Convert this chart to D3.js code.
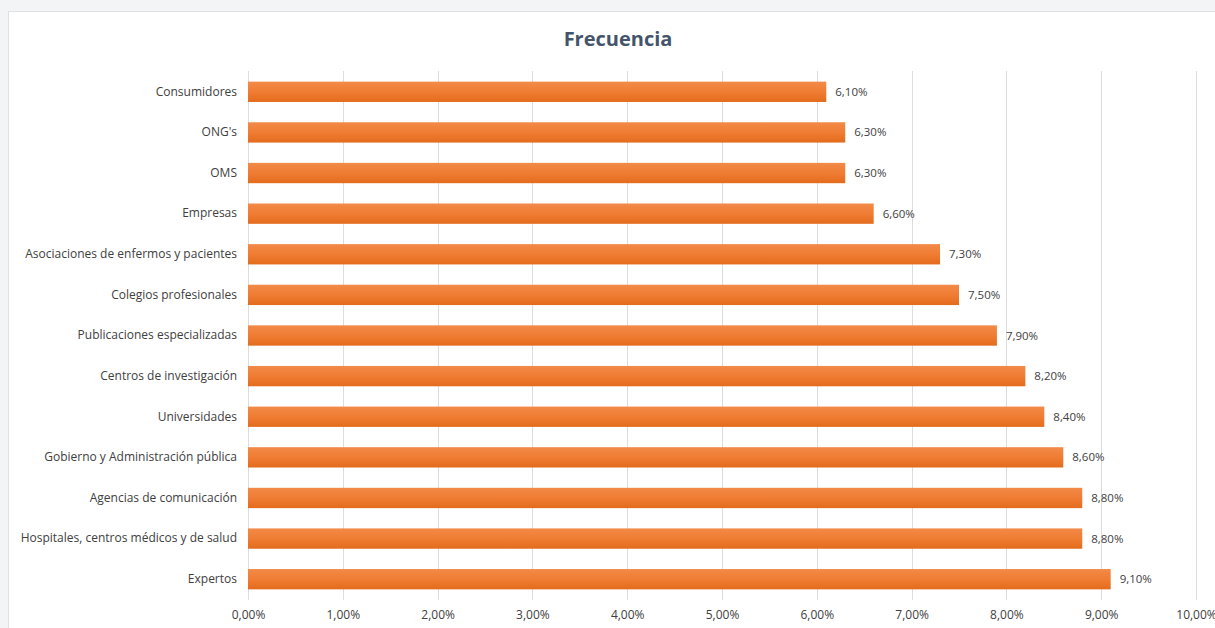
<!DOCTYPE html>
<html>
<head>
<meta charset="utf-8">
<script src="https://cdn.jsdelivr.net/npm/d3@7"></script>
<style>
  html, body { margin: 0; padding: 0; background: #f3f4f6; }
  svg { display: block; }
</style>
</head>
<body>
<svg id="chart" width="1215" height="628"></svg>
<script>
// Categories listed top to bottom
const categories = [
  "Consumidores",
  "ONG's",
  "OMS",
  "Empresas",
  "Asociaciones de enfermos y pacientes",
  "Colegios profesionales",
  "Publicaciones especializadas",
  "Centros de investigación",
  "Universidades",
  "Gobierno y Administración pública",
  "Agencias de comunicación",
  "Hospitales, centros médicos y de salud",
  "Expertos"
];
// Frequency, in percent
const values = [6.1, 6.3, 6.3, 6.6, 7.3, 7.5, 7.9, 8.2, 8.4, 8.6, 8.8, 8.8, 9.1];
const tickValues = [0, 1, 2, 3, 4, 5, 6, 7, 8, 9, 10];
const title = "Frecuencia";

const fmt = v => d3.format(".2f")(v).replace(".", ",") + "%";

const svg = d3.select("#chart");
const font = "'Open Sans', 'Liberation Sans', sans-serif";

// White chart panel
svg.append("rect")
  .attr("x", 8.5).attr("y", 11.5)
  .attr("width", 1220).attr("height", 630)
  .attr("fill", "#ffffff")
  .attr("stroke", "#dfe1e6");

const defs = svg.append("defs");
const grad = defs.append("linearGradient")
  .attr("id", "barGrad").attr("x1", 0).attr("y1", 0).attr("x2", 0).attr("y2", 1);
grad.append("stop").attr("offset", "0%").attr("stop-color", "#f28a48");
grad.append("stop").attr("offset", "55%").attr("stop-color", "#ef7b31");
grad.append("stop").attr("offset", "100%").attr("stop-color", "#e36b1c");

const x = d3.scaleLinear().domain([0, 10]).range([248, 1196]);
const y = d3.scaleBand().domain(categories).range([71.5, 599.5]).paddingInner(0.5).paddingOuter(0.25);

// Vertical gridlines
svg.append("g")
  .selectAll("line")
  .data(tickValues)
  .join("line")
  .attr("x1", d => Math.round(x(d)) + 0.5)
  .attr("x2", d => Math.round(x(d)) + 0.5)
  .attr("y1", 71)
  .attr("y2", 600)
  .attr("stroke", "#dcdcdc")
  .attr("stroke-width", 1);

// Bottom axis tick labels
const xAxis = d3.axisBottom(x).tickValues(tickValues).tickFormat(fmt).tickSize(0).tickPadding(0);
const gx = svg.append("g").attr("transform", "translate(0,610)").call(xAxis);
gx.select(".domain").remove();
gx.selectAll("text")
  .attr("font-family", font).attr("font-size", 12).attr("fill", "#404040");

// Left axis category labels
const yAxis = d3.axisLeft(y).tickSize(0).tickPadding(0);
const gy = svg.append("g").attr("transform", "translate(237,0)").call(yAxis);
gy.select(".domain").remove();
gy.selectAll("text")
  .attr("font-family", font).attr("font-size", 12).attr("fill", "#404040");

// Bars
svg.append("g")
  .selectAll("rect")
  .data(values)
  .join("rect")
  .attr("x", x(0))
  .attr("y", (d, i) => y(categories[i]))
  .attr("width", d => x(d) - x(0))
  .attr("height", y.bandwidth())
  .attr("fill", "url(#barGrad)");

// Value labels
svg.append("g")
  .selectAll("text")
  .data(values)
  .join("text")
  .attr("x", d => x(d) + 9)
  .attr("y", (d, i) => y(categories[i]) + y.bandwidth() / 2)
  .attr("dy", "0.35em")
  .attr("font-family", font).attr("font-size", 11.5).attr("fill", "#404040")
  .text(fmt);

// Title
svg.append("text")
  .attr("x", 618).attr("y", 46)
  .attr("text-anchor", "middle")
  .attr("font-family", font).attr("font-size", 20).attr("font-weight", "bold")
  .attr("fill", "#44546a")
  .text(title);
</script>
</body>
</html>
